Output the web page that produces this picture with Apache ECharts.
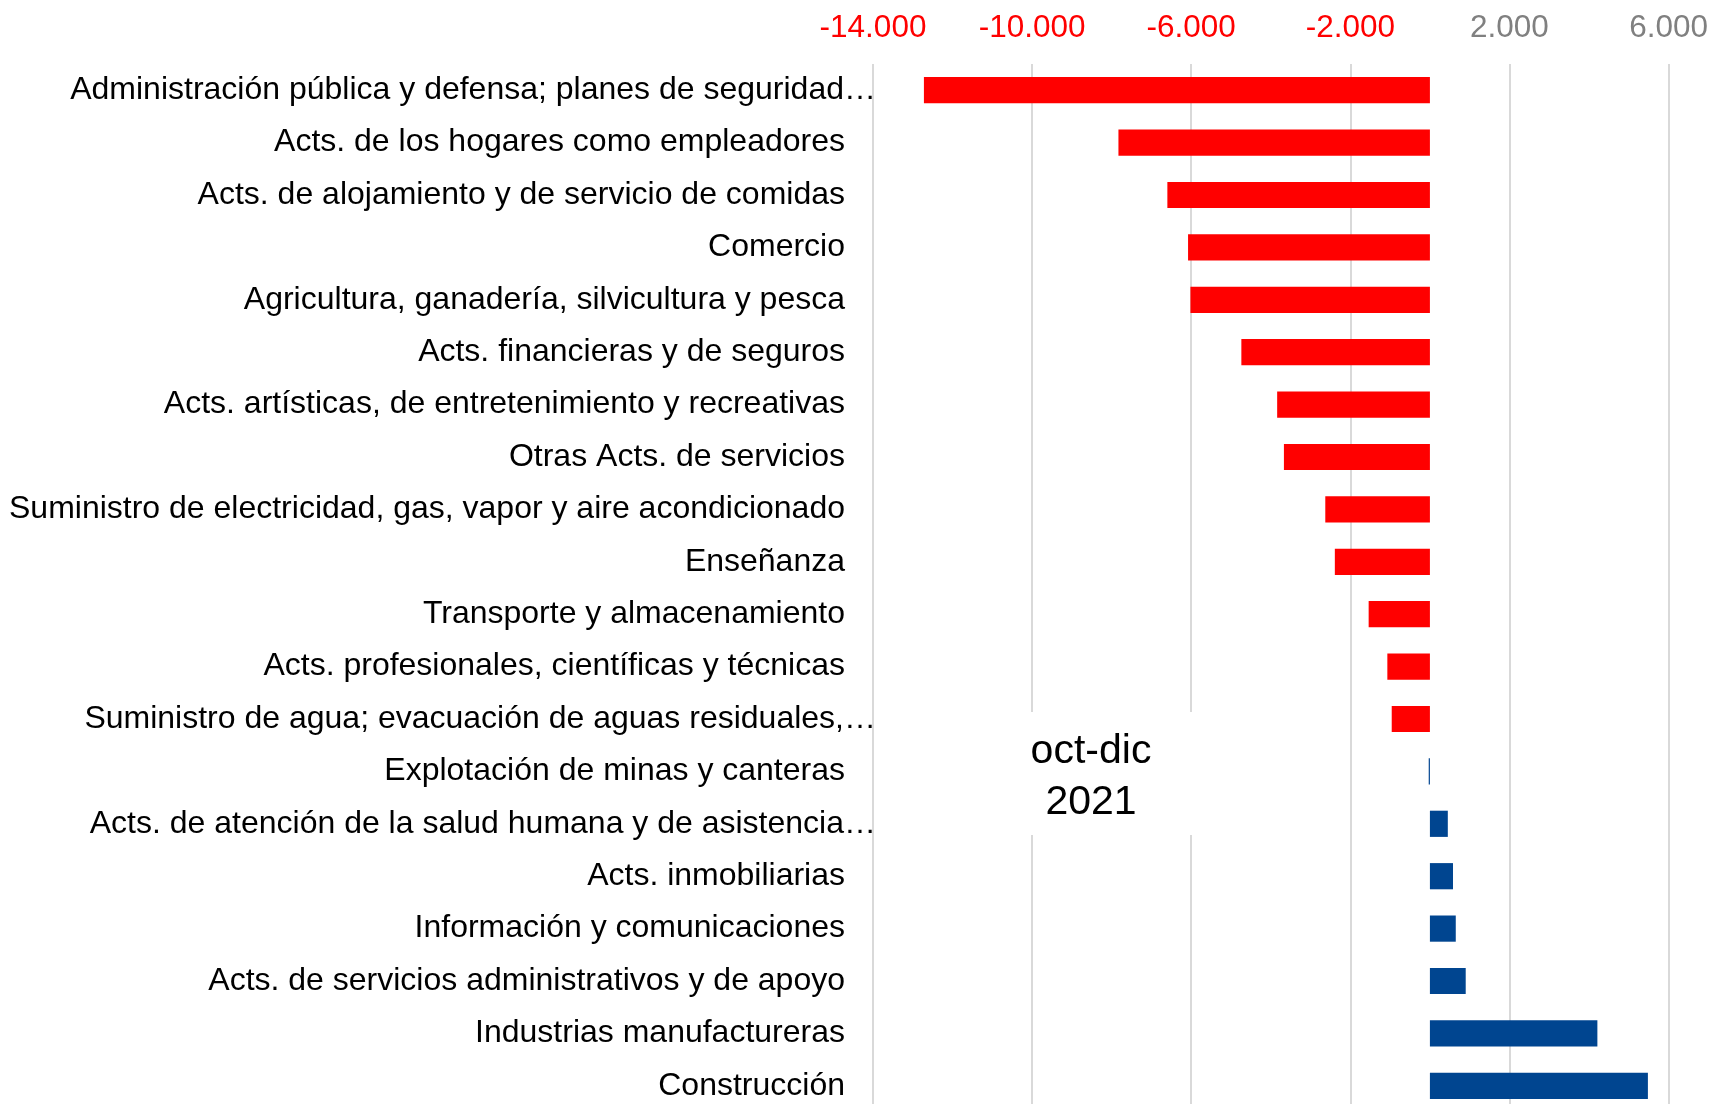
<!DOCTYPE html>
<html>
<head>
<meta charset="utf-8">
<script src="https://cdn.jsdelivr.net/npm/echarts@6/dist/echarts.min.js"></script>
<style>
  html, body { margin: 0; padding: 0; background: #fff; overflow: hidden; }
  #chart { width: 1711px; height: 1112px; }
</style>
</head>
<body>
<div id="chart"></div>
<script>
/* ---------------- DATA ---------------- */

const SECTORS = [
    "Administración pública y defensa; planes de seguridad…",
    "Acts. de los hogares como empleadores",
    "Acts. de alojamiento y de servicio de comidas",
    "Comercio",
    "Agricultura, ganadería, silvicultura y pesca",
    "Acts. financieras y de seguros",
    "Acts. artísticas, de entretenimiento y recreativas",
    "Otras Acts. de servicios",
    "Suministro de electricidad, gas, vapor y aire acondicionado",
    "Enseñanza",
    "Transporte y almacenamiento",
    "Acts. profesionales, científicas y técnicas",
    "Suministro de agua; evacuación de aguas residuales,…",
    "Explotación de minas y canteras",
    "Acts. de atención de la salud humana y de asistencia…",
    "Acts. inmobiliarias",
    "Información y comunicaciones",
    "Acts. de servicios administrativos y de apoyo",
    "Industrias manufactureras",
    "Construcción",
];

const CHANGE = [
    -12720, -7830, -6600, -6080, -6020, -4740, -3840, -3670, -2630, -2390,
    -1540, -1070, -960, -30, 450, 580, 650, 900, 4210, 5480,
];

// rows drawn in blue (from this index on)
const FIRST_BLUE = 13;

const AXIS_MIN = -14000;
const AXIS_MAX = 6000;
const AXIS_STEP = 4000;

const NOTE = "oct-dic\n2021";

/* ---------------- HELPERS ---------------- */

const RED = "#FF0000";
const BLUE = "#004590";
const FONT = "'Liberation Sans', Arial, sans-serif";

function fmt(v) {
    const s = String(Math.abs(v)).replace(/\B(?=(\d{3})+(?!\d))/g, ".");
    return (v < 0 ? "-" : "") + s;
}

/* ---------------- CHART ---------------- */

const chart = echarts.init(document.getElementById("chart"), null, { renderer: "canvas" });

chart.setOption({
    animation: false,
    backgroundColor: "#fff",
    grid: {
        left: 873,
        right: 40,
        top: 64,
        bottom: 0,
    },
    xAxis: {
        type: "value",
        position: "top",
        min: AXIS_MIN,
        max: AXIS_MAX,
        interval: AXIS_STEP,
        axisLine: { show: false },
        axisTick: { show: false },
        splitLine: { lineStyle: { color: "#d9d9d9", width: 2 } },
        axisLabel: {
            margin: 20,
            fontFamily: FONT,
            fontSize: 31.5,
            formatter: (v) => fmt(v),
            color: (v) => (v < 0 ? RED : "#808080"),
        },
    },
    yAxis: {
        type: "category",
        inverse: true,
        data: SECTORS,
        axisLine: { show: false },
        axisTick: { show: false },
        splitLine: { show: false },
        axisLabel: {
            margin: -3,
            interval: 0,
            formatter: (v) => (v.endsWith("…") ? `{e|${v}}` : `{n|${v}}`),
            rich: {
                e: { fontFamily: FONT, fontSize: 32, color: "#000" },
                n: { fontFamily: FONT, fontSize: 32, color: "#000", padding: [0, 31, 0, 0] },
            },
        },
    },
    series: [
        {
            type: "bar",
            data: CHANGE,
            barWidth: "50%",
            itemStyle: {
                color: (p) => (p.dataIndex >= FIRST_BLUE ? BLUE : RED),
            },
        },
    ],
    graphic: [
        {
            type: "rect",
            z: 1,
            shape: { x: 986, y: 712, width: 210, height: 123 },
            style: { fill: "#fff" },
        },
        {
            type: "text",
            z: 1,
            x: 1091,
            y: 777,
            style: {
                text: NOTE,
                font: `41px ${FONT}`,
                lineHeight: 51,
                fill: "#000",
                align: "center",
                verticalAlign: "middle",
            },
        },
    ],
});
</script>
</body>
</html>
